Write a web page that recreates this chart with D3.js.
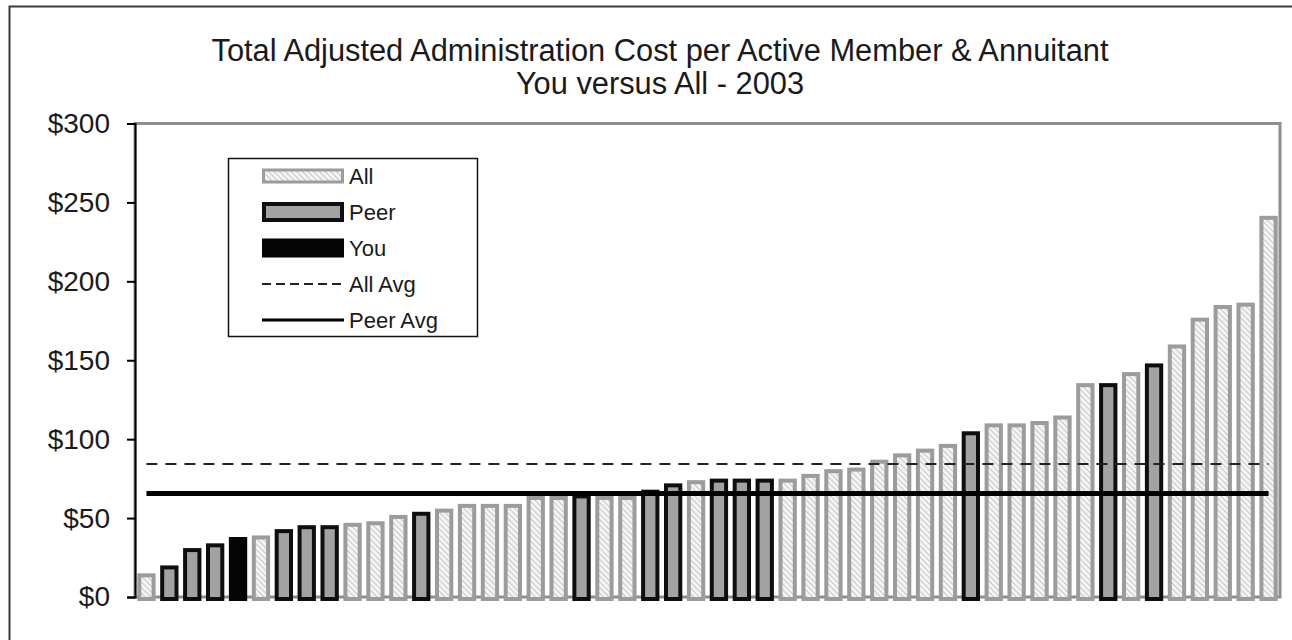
<!DOCTYPE html>
<html><head><meta charset="utf-8">
<script src="https://cdn.jsdelivr.net/npm/d3@7"></script>
<style>body{margin:0;background:#fff}svg{display:block}text{font-family:Arial,"Liberation Sans",sans-serif;fill:#1a1a1a}</style>
</head><body><svg id="c" width="1292" height="640"></svg>
<script>
const titleLines = ["Total Adjusted Administration Cost per Active Member & Annuitant", "You versus All - 2003"];
const categories = d3.range(1, 51).map(String);
const groups = ["All","Peer","Peer","Peer","You","All","Peer","Peer","Peer","All",
  "All","All","Peer","All","All","All","All","All","All","Peer",
  "All","All","Peer","Peer","All","Peer","Peer","Peer","All","All",
  "All","All","All","All","All","All","Peer","All","All","All",
  "All","All","Peer","All","Peer","All","All","All","All","All"];
const values = [15,20,31,34,38,39,43,45.5,45.5,47,
  48,52,54,56,59,59,59,64,64,65,
  64,64,68,72,74,75,75,75,75,78,
  81,82,87,91,94,97,105,110,110,111.5,
  115,135.5,135.5,142.5,148,160,177,185,186.5,241.5];
const allAvg = 84.2;
const peerAvg = 65.6;
const yTicks = [0,50,100,150,200,250,300];
const legendItems = ["All","Peer","You","All Avg","Peer Avg"];

const svg = d3.select("#c");
const defs = svg.append("defs");
const pat = defs.append("pattern").attr("id","hatch").attr("patternUnits","userSpaceOnUse")
  .attr("width",4).attr("height",4).attr("patternTransform","rotate(-45)");
pat.append("rect").attr("width",4).attr("height",4).attr("fill","#f4f4f4");
pat.append("line").attr("x1",0).attr("y1",0).attr("x2",0).attr("y2",4).attr("stroke","#b4b4b4").attr("stroke-width",1.4);

// outer frame
svg.append("rect").attr("x",9.5).attr("y",6.5).attr("width",1300).attr("height",650)
  .attr("fill","none").attr("stroke","#3a3a3a").attr("stroke-width",2);

const L = 135, R = 1280, T = 123.5, B = 597;
const x = d3.scaleBand().domain(categories).range([L, R]).paddingInner(0.2).paddingOuter(0.1);
const y = d3.scaleLinear().domain([0, 300]).range([B, T]);

// title
svg.append("g").selectAll("text").data(titleLines).join("text")
  .attr("x", 660).attr("y", (d,i) => 61 + i*33).attr("text-anchor","middle")
  .style("font-size","30.8px").text(d => d);

// plot border
svg.append("rect").attr("x",L).attr("y",T).attr("width",R-L).attr("height",B-T)
  .attr("fill","none").attr("stroke","#8e8e8e").attr("stroke-width",3);

const style = {
  All: {fill:"url(#hatch)", stroke:"#9c9c9c"},
  Peer: {fill:"#a2a2a2", stroke:"#0e0e0e"},
  You: {fill:"#050505", stroke:"#050505"}
};
const sw = 4;
const data = categories.map((c,i) => ({c, v: values[i], g: groups[i]}));
svg.append("g").selectAll("rect").data(data).join("rect")
  .attr("x", d => x(d.c) + sw/2).attr("width", x.bandwidth() - sw)
  .attr("y", d => y(d.v) + sw/2).attr("height", d => y(0) - y(d.v))
  .attr("fill", d => style[d.g].fill).attr("stroke", d => style[d.g].stroke).attr("stroke-width", sw);

// average lines
const x0 = x(categories[0]) + x.bandwidth()/2, x1 = x(categories[categories.length-1]) + x.bandwidth()/2;
svg.append("line").attr("x1",x0).attr("x2",x1).attr("y1",y(allAvg)).attr("y2",y(allAvg))
  .attr("stroke","#222").attr("stroke-width",2).attr("stroke-dasharray","11,8");
svg.append("line").attr("x1",x0).attr("x2",x1).attr("y1",y(peerAvg)).attr("y2",y(peerAvg))
  .attr("stroke","#000").attr("stroke-width",5);

// y axis
const yAxis = d3.axisLeft(y).tickValues(yTicks).tickFormat(d => "$" + d).tickSize(8).tickPadding(17);
const ga = svg.append("g").attr("transform", `translate(${L},0)`).call(yAxis);
ga.select(".domain").attr("stroke","#000").attr("stroke-width",2);
ga.selectAll(".tick line").attr("stroke","#000").attr("stroke-width",2);
ga.selectAll(".tick text").style("font-size","28px").attr("fill","#1a1a1a").style("font-family","Arial, 'Liberation Sans', sans-serif");

// legend
const lg = svg.append("g");
lg.append("rect").attr("x",228.5).attr("y",158.5).attr("width",249).attr("height",178)
  .attr("fill","#fff").attr("stroke","#111").attr("stroke-width",1.5);
const rowY = d3.scalePoint().domain(legendItems).range([176, 320]);
const sx0 = 262, sx1 = 344;
lg.append("rect").attr("x",sx0+1.5).attr("y",rowY("All")-6).attr("width",sx1-sx0-3).attr("height",12)
  .attr("fill","url(#hatch)").attr("stroke","#9c9c9c").attr("stroke-width",3);
lg.append("rect").attr("x",sx0+2).attr("y",rowY("Peer")-8).attr("width",sx1-sx0-4).attr("height",16)
  .attr("fill","#a2a2a2").attr("stroke","#0e0e0e").attr("stroke-width",4);
lg.append("rect").attr("x",sx0).attr("y",rowY("You")-9.5).attr("width",sx1-sx0).attr("height",19)
  .attr("fill","#050505");
lg.append("line").attr("x1",sx0).attr("x2",sx1).attr("y1",rowY("All Avg")).attr("y2",rowY("All Avg"))
  .attr("stroke","#222").attr("stroke-width",2).attr("stroke-dasharray","9,5");
lg.append("line").attr("x1",sx0).attr("x2",sx1).attr("y1",rowY("Peer Avg")).attr("y2",rowY("Peer Avg"))
  .attr("stroke","#000").attr("stroke-width",3);
lg.selectAll("text").data(legendItems).join("text")
  .attr("x", 349).attr("y", d => rowY(d) + 8).style("font-size","22px").text(d => d);
</script></body></html>
